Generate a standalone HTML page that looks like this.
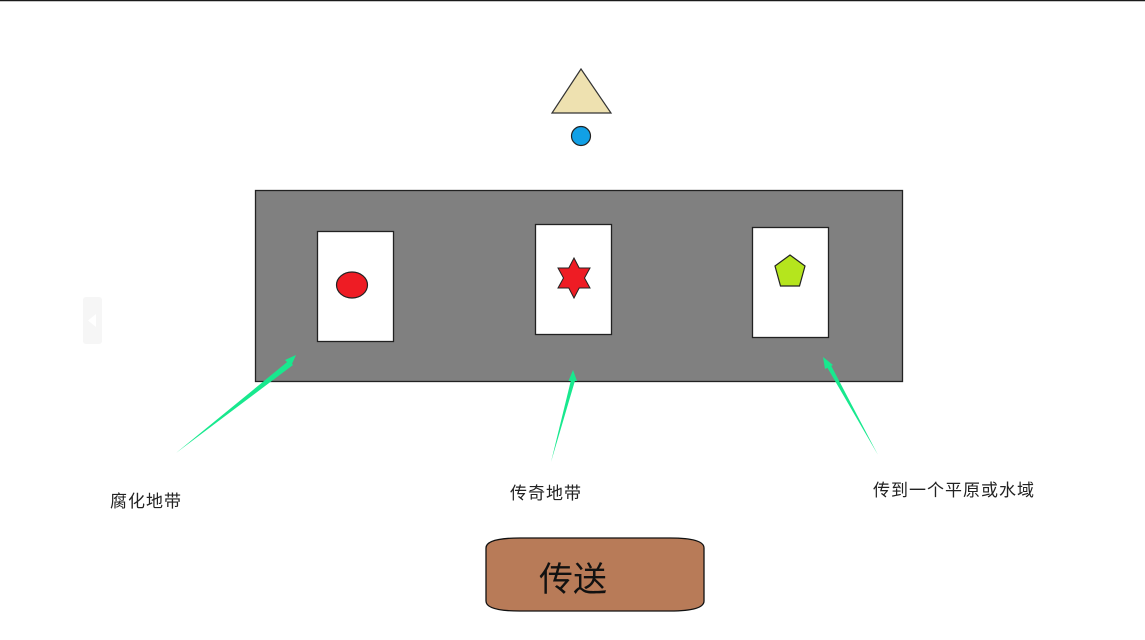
<!DOCTYPE html>
<html><head><meta charset="utf-8"><style>
html,body{margin:0;padding:0;background:#fff;width:1145px;height:640px;overflow:hidden}
svg{display:block}
text{font-family:"Liberation Sans","Noto Sans CJK SC",sans-serif}
</style></head><body>
<svg width="1145" height="640" viewBox="0 0 1145 640">
<line x1="0" y1="0.5" x2="1145" y2="0.5" stroke="#1a1a1a" stroke-width="1.5"/>
<polygon points="581,69 611,113 552,113" fill="#eee1b0" stroke="#333" stroke-width="1.2"/>
<circle cx="581" cy="136" r="9.5" fill="#11a0e6" stroke="#222" stroke-width="1.2"/>
<rect x="83" y="297" width="19" height="47" rx="3" fill="#f6f6f6"/>
<polygon points="96,314 96,327 88,320.5" fill="#fff"/>
<rect x="255.5" y="190.5" width="647" height="191" fill="#808080" stroke="#222" stroke-width="1.3"/>
<rect x="317.5" y="231.5" width="76" height="110" fill="#fff" stroke="#222" stroke-width="1.3"/>
<rect x="535.5" y="224.5" width="76" height="110" fill="#fff" stroke="#222" stroke-width="1.3"/>
<rect x="752.5" y="227.5" width="76" height="110" fill="#fff" stroke="#222" stroke-width="1.3"/>
<ellipse cx="352" cy="285" rx="15.5" ry="13" fill="#ee1c24" stroke="#222" stroke-width="1.2"/>
<polygon points="574,258 579.2,268 590,268 584.5,278 590,288 579.2,288 574,298 568.8,288 558,288 563.5,278 558,268 568.8,268" fill="#ee1c24" stroke="#222" stroke-width="1"/>
<polygon points="790,255 805,266 799.5,286 780.5,286 775,266" fill="#b5e51d" stroke="#222" stroke-width="1.2"/>
<polygon points="176,453 289,360.5 293,365" fill="#18e88e"/>
<polygon points="285,360 296,355 291,366" fill="#18e88e"/>
<polygon points="551,462 571.5,378 575.5,379" fill="#18e88e"/>
<polygon points="568.5,381 573,370 577,381" fill="#18e88e"/>
<polygon points="878,455 825.5,364.5 829.5,362.5" fill="#18e88e"/>
<polygon points="823,357 833,365 825,369" fill="#18e88e"/>
<text x="110" y="507" font-size="17" letter-spacing="1" fill="#222">腐化地带</text>
<text x="510" y="499" font-size="17" letter-spacing="1" fill="#222">传奇地带</text>
<text x="873" y="496" font-size="17" letter-spacing="1" fill="#222">传到一个平原或水域</text>
<path d="M486,548 Q486,538 520,538 L670,538 Q704,538 704,548 L704,601 Q704,611 670,611 L520,611 Q486,611 486,601 Z" fill="#b87b58" stroke="#111" stroke-width="1.3"/>
<text x="539" y="591" font-size="34" fill="#111">传送</text>
</svg>
</body></html>
